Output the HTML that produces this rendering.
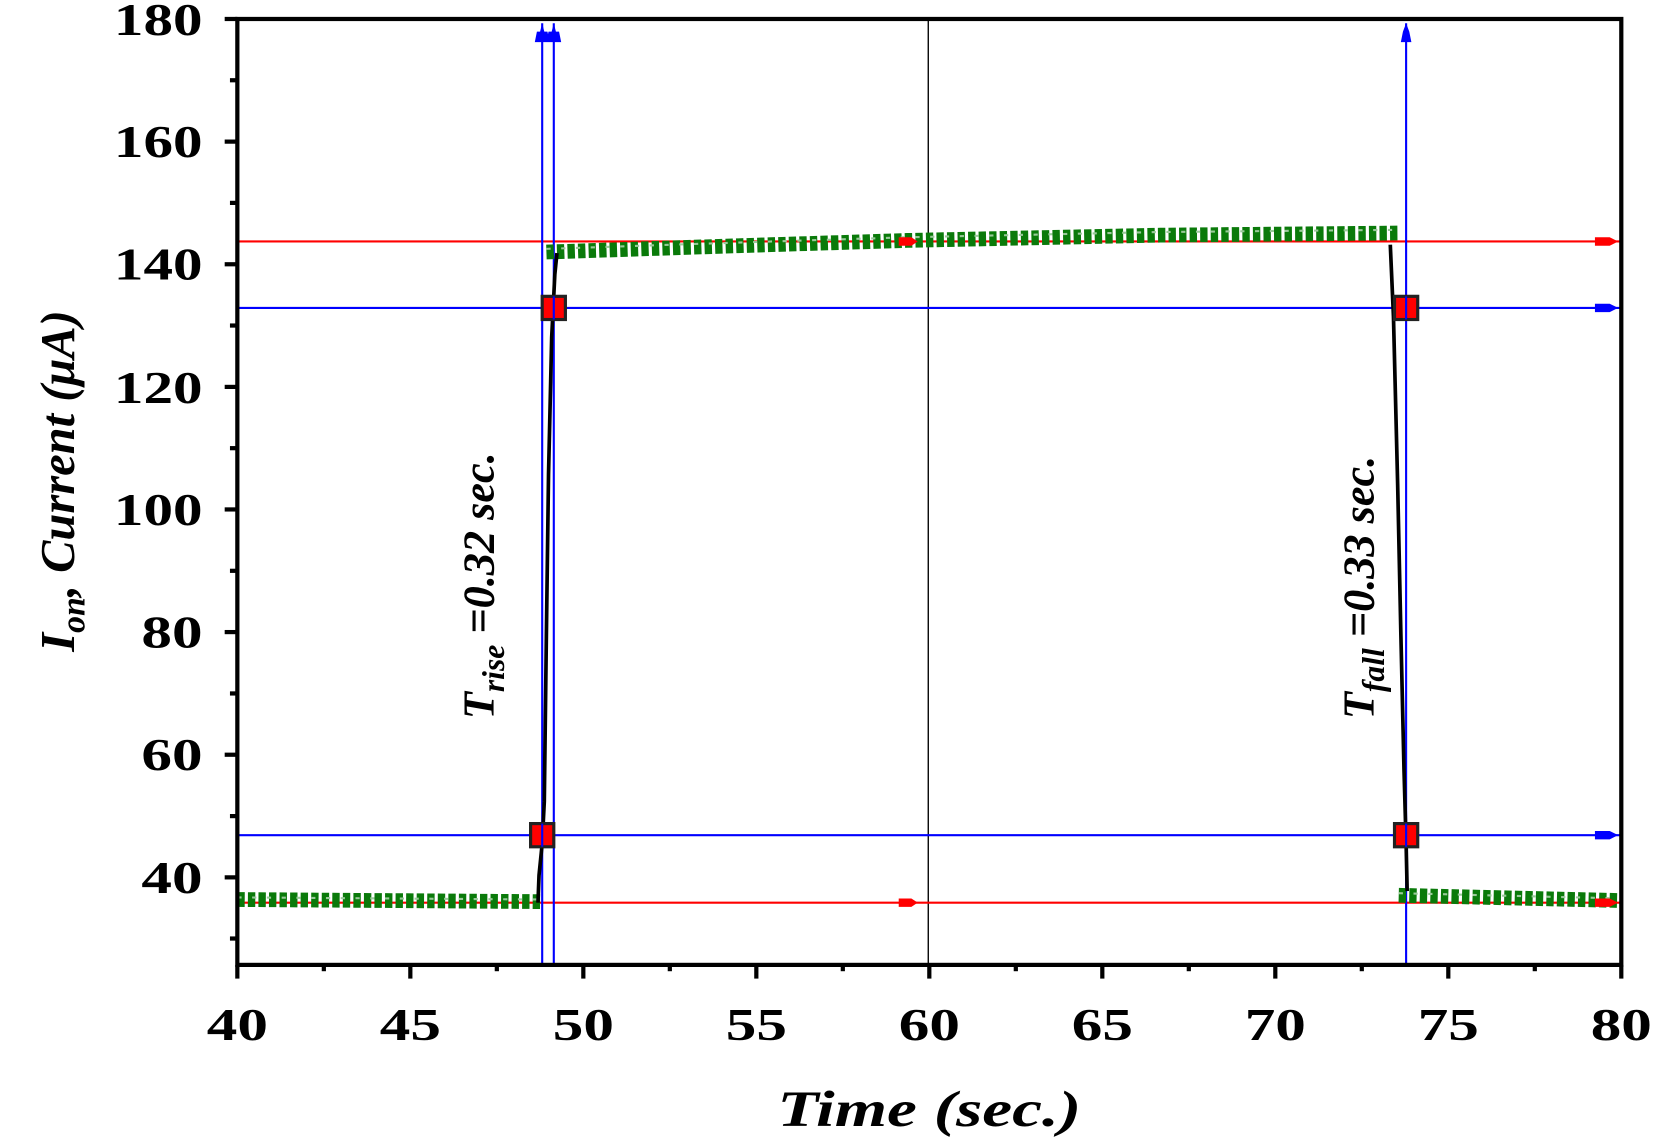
<!DOCTYPE html>
<html><head><meta charset="utf-8"><style>
html,body{margin:0;padding:0;background:#fff;}
svg{display:block;}
text{font-family:"Liberation Serif",serif;font-weight:bold;fill:#000;}
</style></head><body>
<svg width="1654" height="1141" viewBox="0 0 1568 1082" preserveAspectRatio="none" xmlns="http://www.w3.org/2000/svg">
<line x1="880" y1="18" x2="880" y2="915" stroke="#000" stroke-width="1.3"/>
<line x1="225" y1="229" x2="1537" y2="229" stroke="#f00" stroke-width="2"/>
<line x1="225" y1="856" x2="1537" y2="856" stroke="#f00" stroke-width="2"/>
<line x1="225" y1="292" x2="1537" y2="292" stroke="#00f" stroke-width="2"/>
<line x1="225" y1="792" x2="1537" y2="792" stroke="#00f" stroke-width="2"/>
<line x1="514" y1="22" x2="514" y2="915" stroke="#00f" stroke-width="2"/>
<line x1="525" y1="22" x2="525" y2="915" stroke="#00f" stroke-width="2"/>
<line x1="1333" y1="22" x2="1333" y2="915" stroke="#00f" stroke-width="2"/>
<path d="M507,40 L521,40 L519,30 L516,30 L514,22 L512,30 L509,30Z M518,40 L532,40 L530,30 L527,30 L525,22 L523,30 L520,30Z M1328,40 L1338,40 L1336,30 L1333,22 L1330,30Z" fill="#00f"/>
<g fill="none" stroke="#0a7a0a">
<polyline points="225,853 512,855" stroke-width="14" stroke-dasharray="7 3"/>
<polyline points="518,239 700,233 860,228 1100,223 1325,221" stroke-width="14" stroke-dasharray="7 3"/>
<polyline points="1326,849 1537,854" stroke-width="14" stroke-dasharray="7 3"/>
</g>
<g fill="none" stroke="#9ac99a" stroke-width="2" stroke-dasharray="4 10">
<polyline points="225,851 512,853"/>
<polyline points="518,236 700,230 860,225 1100,220 1325,218"/>
<polyline points="1326,847 1537,852"/>
</g>
<polyline fill="none" stroke="#000" stroke-width="3.5" points="510,856 511,830 514,800 516,760 518,600 520,450 523,320 526,260 528,240"/>
<polyline fill="none" stroke="#000" stroke-width="3.5" points="1318,232 1321,300 1325,460 1328,600 1331,730 1333,800 1334,845"/>
<g>
<path d="M852,225 L864,225 L870,229 L864,233 L852,233Z" fill="#f00"/>
<path d="M852,852 L864,852 L870,856 L864,860 L852,860Z" fill="#f00"/>
<path d="M1512,225 L1526,225 L1534,229 L1526,233 L1512,233Z" fill="#f00"/>
<path d="M1512,852 L1526,852 L1534,856 L1526,860 L1512,860Z" fill="#f00"/>
<path d="M1512,288 L1526,288 L1534,292 L1526,296 L1512,296Z" fill="#00f"/>
<path d="M1512,788 L1526,788 L1534,792 L1526,796 L1512,796Z" fill="#00f"/>
</g>
<g fill="#f00" stroke="#222" stroke-width="3">
<rect x="503" y="781" width="22" height="22"/>
<rect x="514" y="281" width="22" height="22"/>
<rect x="1322" y="281" width="22" height="22"/>
<rect x="1322" y="781" width="22" height="22"/>
</g>
<g stroke="#00f" stroke-width="2"><line x1="514" y1="781" x2="514" y2="803"/><line x1="525" y1="281" x2="525" y2="303"/><line x1="1333" y1="281" x2="1333" y2="303"/><line x1="1333" y1="781" x2="1333" y2="803"/></g>
<rect x="225" y="18" width="1312" height="897" fill="none" stroke="#000" stroke-width="4"/>
<g stroke="#000" stroke-width="4">
<line x1="213" y1="18" x2="225" y2="18"/><line x1="213" y1="134.3" x2="225" y2="134.3"/><line x1="213" y1="250.6" x2="225" y2="250.6"/><line x1="213" y1="366.9" x2="225" y2="366.9"/><line x1="213" y1="483.1" x2="225" y2="483.1"/><line x1="213" y1="599.4" x2="225" y2="599.4"/><line x1="213" y1="715.7" x2="225" y2="715.7"/><line x1="213" y1="832" x2="225" y2="832"/>
<line x1="218" y1="76.1" x2="225" y2="76.1"/><line x1="218" y1="192.4" x2="225" y2="192.4"/><line x1="218" y1="308.7" x2="225" y2="308.7"/><line x1="218" y1="425" x2="225" y2="425"/><line x1="218" y1="541.3" x2="225" y2="541.3"/><line x1="218" y1="657.6" x2="225" y2="657.6"/><line x1="218" y1="773.9" x2="225" y2="773.9"/><line x1="218" y1="890" x2="225" y2="890"/>
<line x1="225" y1="915" x2="225" y2="928"/><line x1="389" y1="915" x2="389" y2="928"/><line x1="553" y1="915" x2="553" y2="928"/><line x1="717" y1="915" x2="717" y2="928"/><line x1="881" y1="915" x2="881" y2="928"/><line x1="1045" y1="915" x2="1045" y2="928"/><line x1="1209" y1="915" x2="1209" y2="928"/><line x1="1373" y1="915" x2="1373" y2="928"/><line x1="1537" y1="915" x2="1537" y2="928"/>
<line x1="307" y1="915" x2="307" y2="921"/><line x1="471" y1="915" x2="471" y2="921"/><line x1="635" y1="915" x2="635" y2="921"/><line x1="799" y1="915" x2="799" y2="921"/><line x1="963" y1="915" x2="963" y2="921"/><line x1="1127" y1="915" x2="1127" y2="921"/><line x1="1291" y1="915" x2="1291" y2="921"/><line x1="1455" y1="915" x2="1455" y2="921"/>
</g>
<g font-size="43">
<text x="108" y="33" textLength="84" lengthAdjust="spacingAndGlyphs">180</text>
<text x="108" y="149" textLength="84" lengthAdjust="spacingAndGlyphs">160</text>
<text x="108" y="265" textLength="84" lengthAdjust="spacingAndGlyphs">140</text>
<text x="108" y="382" textLength="84" lengthAdjust="spacingAndGlyphs">120</text>
<text x="108" y="498" textLength="84" lengthAdjust="spacingAndGlyphs">100</text>
<text x="134" y="614" textLength="58" lengthAdjust="spacingAndGlyphs">80</text>
<text x="134" y="730" textLength="58" lengthAdjust="spacingAndGlyphs">60</text>
<text x="134" y="847" textLength="58" lengthAdjust="spacingAndGlyphs">40</text>
</g>
<g font-size="43">
<text x="196" y="986" textLength="58" lengthAdjust="spacingAndGlyphs">40</text>
<text x="360" y="986" textLength="58" lengthAdjust="spacingAndGlyphs">45</text>
<text x="524" y="986" textLength="58" lengthAdjust="spacingAndGlyphs">50</text>
<text x="688" y="986" textLength="58" lengthAdjust="spacingAndGlyphs">55</text>
<text x="852" y="986" textLength="58" lengthAdjust="spacingAndGlyphs">60</text>
<text x="1016" y="986" textLength="58" lengthAdjust="spacingAndGlyphs">65</text>
<text x="1180" y="986" textLength="58" lengthAdjust="spacingAndGlyphs">70</text>
<text x="1344" y="986" textLength="58" lengthAdjust="spacingAndGlyphs">75</text>
<text x="1508" y="986" textLength="58" lengthAdjust="spacingAndGlyphs">80</text>
</g>
<text x="737" y="1068" font-size="48" font-style="italic" textLength="288" lengthAdjust="spacingAndGlyphs">Time (sec.)</text>
<text transform="translate(70,618) rotate(-90)" font-size="46" font-style="italic">I<tspan font-size="32" dy="10">on</tspan><tspan dy="-10">, </tspan><tspan>  Current (μA)</tspan></text>
<text transform="translate(468,682) rotate(-90)" font-size="42" font-style="italic">T<tspan font-size="30" dy="10">rise</tspan><tspan dy="-10"> =0.32 sec.</tspan></text>
<text transform="translate(1302,682) rotate(-90)" font-size="42" font-style="italic">T<tspan font-size="30" dy="10">fall</tspan><tspan dy="-10"> =0.33 sec.</tspan></text>
</svg>
</body></html>
